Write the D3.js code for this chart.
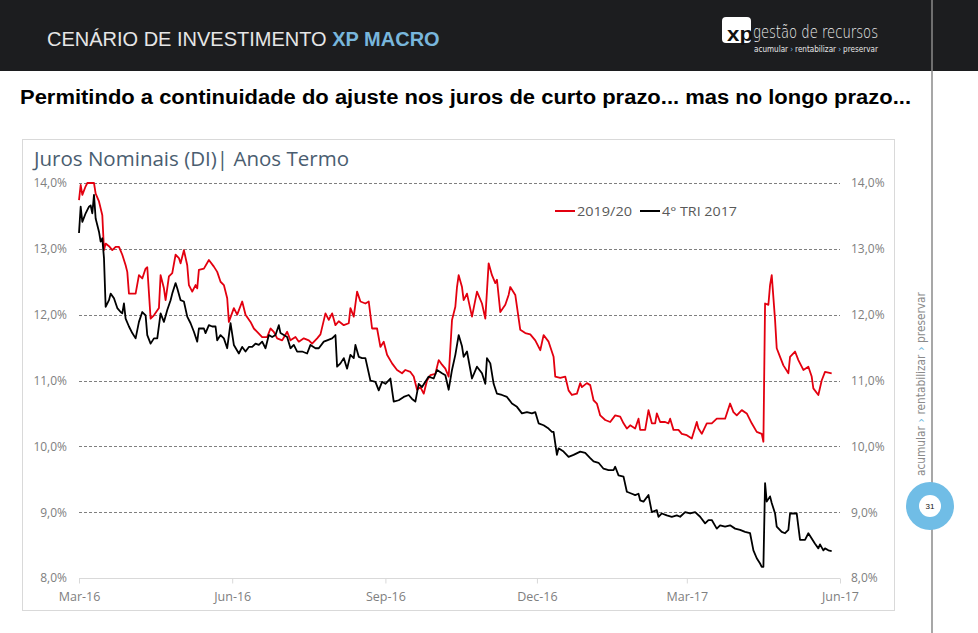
<!DOCTYPE html>
<html><head><meta charset="utf-8">
<script src="https://cdn.jsdelivr.net/npm/d3@7"></script>
<style>html,body{margin:0;padding:0;background:#fff;overflow:hidden}svg{display:block}</style>
</head><body>
<svg id="c" width="978" height="633"></svg>
<script>
// ---------------- DATA ----------------
const seriesNames = ["2019/20", "4° TRI 2017"];
const yTicks = [8, 9, 10, 11, 12, 13, 14];
const xTickDates = ["2016-03-01","2016-06-01","2016-09-01","2016-12-01","2017-03-01","2017-06-01"];
const xTickLabels = ["Mar-16","Jun-16","Sep-16","Dec-16","Mar-17","Jun-17"];

const redDates = ["2016-03-01","2016-03-02","2016-03-03","2016-03-05","2016-03-06","2016-03-10","2016-03-11","2016-03-13","2016-03-15","2016-03-16","2016-03-17","2016-03-19","2016-03-21","2016-03-23","2016-03-25","2016-03-27","2016-03-29","2016-03-30","2016-03-31","2016-04-04","2016-04-06","2016-04-08","2016-04-10","2016-04-11","2016-04-13","2016-04-15","2016-04-18","2016-04-19","2016-04-21","2016-04-22","2016-04-24","2016-04-26","2016-04-28","2016-04-30","2016-05-01","2016-05-03","2016-05-05","2016-05-06","2016-05-08","2016-05-10","2016-05-11","2016-05-12","2016-05-15","2016-05-18","2016-05-21","2016-05-23","2016-05-25","2016-05-27","2016-05-29","2016-05-30","2016-06-02","2016-06-04","2016-06-07","2016-06-09","2016-06-12","2016-06-14","2016-06-16","2016-06-19","2016-06-22","2016-06-24","2016-06-26","2016-06-28","2016-07-01","2016-07-04","2016-07-06","2016-07-09","2016-07-11","2016-07-14","2016-07-17","2016-07-19","2016-07-22","2016-07-24","2016-07-27","2016-07-29","2016-07-31","2016-08-02","2016-08-04","2016-08-07","2016-08-10","2016-08-11","2016-08-13","2016-08-15","2016-08-17","2016-08-20","2016-08-22","2016-08-24","2016-08-27","2016-08-29","2016-08-31","2016-09-02","2016-09-05","2016-09-08","2016-09-11","2016-09-13","2016-09-16","2016-09-18","2016-09-20","2016-09-22","2016-09-24","2016-09-26","2016-09-28","2016-10-01","2016-10-03","2016-10-05","2016-10-07","2016-10-09","2016-10-11","2016-10-13","2016-10-14","2016-10-15","2016-10-17","2016-10-18","2016-10-20","2016-10-23","2016-10-26","2016-10-29","2016-10-31","2016-11-02","2016-11-04","2016-11-06","2016-11-07","2016-11-09","2016-11-12","2016-11-14","2016-11-15","2016-11-18","2016-11-21","2016-11-24","2016-11-27","2016-11-30","2016-12-03","2016-12-05","2016-12-08","2016-12-11","2016-12-12","2016-12-15","2016-12-18","2016-12-20","2016-12-22","2016-12-25","2016-12-27","2016-12-28","2016-12-31","2017-01-02","2017-01-04","2017-01-06","2017-01-08","2017-01-11","2017-01-14","2017-01-17","2017-01-20","2017-01-22","2017-01-24","2017-01-26","2017-01-29","2017-01-31","2017-02-01","2017-02-04","2017-02-06","2017-02-08","2017-02-10","2017-02-11","2017-02-13","2017-02-16","2017-02-18","2017-02-19","2017-02-21","2017-02-24","2017-02-26","2017-03-01","2017-03-04","2017-03-07","2017-03-08","2017-03-10","2017-03-13","2017-03-16","2017-03-19","2017-03-24","2017-03-27","2017-03-29","2017-03-31","2017-04-03","2017-04-06","2017-04-09","2017-04-12","2017-04-15","2017-04-16","2017-04-17","2017-04-19","2017-04-20","2017-04-21","2017-04-23","2017-04-24","2017-04-26","2017-04-28","2017-05-01","2017-05-02","2017-05-05","2017-05-07","2017-05-10","2017-05-13","2017-05-15","2017-05-16","2017-05-19","2017-05-21","2017-05-23","2017-05-27"];
const redValues = [13.74,13.97,13.82,13.95,14.0,14.0,13.84,13.72,13.51,12.98,13.08,13.04,12.98,13.03,13.03,12.91,12.75,12.65,12.32,12.32,12.60,12.55,12.70,12.72,11.94,11.99,12.10,12.60,12.40,12.22,12.58,12.63,12.91,12.86,12.78,12.98,12.75,12.45,12.35,12.45,12.40,12.68,12.70,12.83,12.73,12.65,12.50,12.45,12.25,11.89,12.10,12.00,12.20,12.00,11.89,11.79,11.74,11.66,11.66,11.79,11.74,11.64,11.61,11.74,11.61,11.66,11.59,11.64,11.61,11.56,11.64,11.70,12.02,11.92,12.02,11.84,11.90,11.84,11.87,12.10,11.97,12.35,12.20,12.17,12.20,11.79,11.79,11.51,11.59,11.39,11.26,11.16,11.11,11.16,11.13,11.06,10.86,10.90,10.80,11.00,11.08,11.10,11.31,11.24,11.18,11.06,11.92,12.12,12.42,12.60,12.42,12.22,12.32,11.97,12.35,12.17,11.94,12.78,12.60,12.48,12.53,12.04,12.15,12.30,12.42,12.30,11.77,11.72,11.70,11.61,11.46,11.69,11.59,11.36,11.06,11.04,11.06,10.85,10.78,10.80,10.96,10.90,10.96,10.93,10.70,10.65,10.47,10.40,10.37,10.47,10.45,10.35,10.27,10.32,10.27,10.42,10.25,10.25,10.55,10.35,10.35,10.50,10.37,10.37,10.35,10.42,10.25,10.25,10.19,10.17,10.12,10.37,10.27,10.19,10.35,10.35,10.42,10.42,10.65,10.52,10.47,10.55,10.50,10.35,10.22,10.19,10.07,12.17,12.15,12.45,12.60,11.92,11.49,11.36,11.23,11.11,11.36,11.44,11.31,11.16,11.21,11.06,10.88,10.78,11.00,11.13,11.11];

const blackDates = ["2016-03-01","2016-03-02","2016-03-03","2016-03-05","2016-03-07","2016-03-08","2016-03-09","2016-03-10","2016-03-11","2016-03-13","2016-03-14","2016-03-15","2016-03-16","2016-03-17","2016-03-19","2016-03-20","2016-03-22","2016-03-24","2016-03-26","2016-03-27","2016-03-28","2016-03-29","2016-03-31","2016-04-02","2016-04-04","2016-04-06","2016-04-08","2016-04-10","2016-04-11","2016-04-13","2016-04-15","2016-04-17","2016-04-19","2016-04-21","2016-04-23","2016-04-25","2016-04-26","2016-04-28","2016-04-29","2016-05-01","2016-05-03","2016-05-05","2016-05-07","2016-05-09","2016-05-11","2016-05-12","2016-05-15","2016-05-16","2016-05-18","2016-05-20","2016-05-22","2016-05-23","2016-05-25","2016-05-27","2016-05-29","2016-05-31","2016-06-02","2016-06-05","2016-06-07","2016-06-09","2016-06-11","2016-06-13","2016-06-15","2016-06-17","2016-06-19","2016-06-21","2016-06-23","2016-06-25","2016-06-27","2016-06-29","2016-06-30","2016-07-02","2016-07-04","2016-07-06","2016-07-08","2016-07-10","2016-07-13","2016-07-16","2016-07-18","2016-07-21","2016-07-23","2016-07-26","2016-07-28","2016-07-31","2016-08-02","2016-08-03","2016-08-05","2016-08-07","2016-08-09","2016-08-11","2016-08-13","2016-08-14","2016-08-16","2016-08-18","2016-08-20","2016-08-23","2016-08-26","2016-08-28","2016-08-30","2016-09-01","2016-09-04","2016-09-06","2016-09-09","2016-09-12","2016-09-15","2016-09-17","2016-09-19","2016-09-21","2016-09-23","2016-09-25","2016-09-27","2016-09-30","2016-10-02","2016-10-05","2016-10-07","2016-10-09","2016-10-11","2016-10-13","2016-10-15","2016-10-17","2016-10-18","2016-10-20","2016-10-23","2016-10-26","2016-10-29","2016-10-31","2016-11-01","2016-11-03","2016-11-05","2016-11-07","2016-11-10","2016-11-13","2016-11-16","2016-11-19","2016-11-22","2016-11-25","2016-11-28","2016-11-30","2016-12-02","2016-12-05","2016-12-08","2016-12-10","2016-12-11","2016-12-13","2016-12-14","2016-12-17","2016-12-20","2016-12-23","2016-12-27","2016-12-30","2017-01-02","2017-01-04","2017-01-07","2017-01-10","2017-01-13","2017-01-16","2017-01-17","2017-01-19","2017-01-22","2017-01-24","2017-01-27","2017-01-29","2017-01-31","2017-02-01","2017-02-03","2017-02-06","2017-02-08","2017-02-11","2017-02-12","2017-02-14","2017-02-17","2017-02-20","2017-02-23","2017-02-25","2017-02-28","2017-03-03","2017-03-06","2017-03-09","2017-03-12","2017-03-14","2017-03-16","2017-03-19","2017-03-21","2017-03-24","2017-03-27","2017-03-30","2017-04-02","2017-04-05","2017-04-08","2017-04-10","2017-04-12","2017-04-14","2017-04-15","2017-04-16","2017-04-17","2017-04-18","2017-04-20","2017-04-21","2017-04-23","2017-04-24","2017-04-27","2017-04-29","2017-05-01","2017-05-02","2017-05-04","2017-05-06","2017-05-08","2017-05-11","2017-05-13","2017-05-15","2017-05-17","2017-05-19","2017-05-20","2017-05-22","2017-05-23","2017-05-25","2017-05-27"];
const blackValues = [13.24,13.64,13.41,13.54,13.64,13.66,13.54,13.82,13.46,13.26,13.11,13.16,12.86,12.12,12.22,12.32,12.25,12.10,12.04,12.02,12.17,11.94,11.82,11.72,11.64,11.89,12.04,11.99,11.69,11.56,11.64,11.64,12.02,11.89,12.07,12.22,12.32,12.48,12.40,12.22,12.20,11.97,11.87,11.74,11.59,11.79,11.79,11.72,11.84,11.82,11.82,11.61,11.69,11.64,11.49,11.87,11.54,11.41,11.51,11.44,11.51,11.51,11.56,11.54,11.59,11.49,11.69,11.66,11.69,11.84,11.72,11.69,11.66,11.49,11.54,11.44,11.44,11.41,11.54,11.49,11.49,11.59,11.61,11.64,11.69,11.21,11.26,11.34,11.18,11.39,11.34,11.54,11.36,11.34,11.34,11.00,10.98,10.85,10.98,10.95,11.03,10.68,10.70,10.75,10.78,10.72,10.68,10.95,10.90,10.98,11.06,11.03,11.16,11.11,11.08,10.86,11.16,11.39,11.69,11.52,11.36,11.44,11.03,11.21,11.11,10.95,11.34,11.26,10.95,10.80,10.78,10.75,10.65,10.60,10.50,10.52,10.50,10.52,10.35,10.32,10.27,10.22,10.22,9.87,9.97,9.92,9.84,9.87,9.92,9.90,9.82,9.77,9.75,9.66,9.64,9.64,9.69,9.56,9.54,9.31,9.28,9.26,9.28,9.18,9.16,9.26,9.00,9.03,8.93,8.98,8.95,8.93,8.95,8.93,9.00,8.98,9.00,8.93,8.83,8.88,8.88,8.75,8.80,8.78,8.80,8.75,8.73,8.70,8.68,8.42,8.30,8.22,8.17,8.17,9.44,9.16,9.24,9.14,8.98,8.78,8.70,8.68,8.73,8.98,8.98,8.98,8.58,8.58,8.68,8.60,8.52,8.45,8.51,8.42,8.45,8.42,8.41];

const taglineParts = ["acumular", "›", "rentabilizar", "›", "preservar"];

// ---------------- DRAW ----------------
const svg = d3.select("#c");
const parse = d3.timeParse("%Y-%m-%d");

// header band
svg.append("rect").attr("x",0).attr("y",0).attr("width",978).attr("height",71).attr("fill","#1c1d1f");
const ht = svg.append("text").attr("x",47).attr("y",46)
  .style("font-family","'Liberation Sans', Arial, sans-serif").style("font-size","20px");
ht.append("tspan").attr("fill","#e6e6e6").text("CENÁRIO DE INVESTIMENTO ");
ht.append("tspan").attr("fill","#78b6dc").attr("font-weight","bold").text("XP MACRO");

// logo
svg.append("rect").attr("x",722).attr("y",17).attr("width",29).attr("height",26).attr("rx",4).attr("fill","#ffffff");
svg.append("text").attr("x",727).attr("y",41).attr("fill","#111").style("font-family","'Liberation Sans',Arial,sans-serif")
  .style("font-size","21px").style("font-weight","bold").attr("textLength",26).attr("lengthAdjust","spacingAndGlyphs").text("xp");
svg.append("text").attr("x",753).attr("y",38).attr("fill","#f0f0f0").style("font-family","'DejaVu Sans',sans-serif")
  .style("font-size","17px").style("font-weight","200").attr("textLength",125).attr("lengthAdjust","spacingAndGlyphs").text("gestão de recursos");

// tagline pieces laid out one after another (horizontal in header, vertical at right)
function tagline(g, fontSize, color, gap) {
  let pos = 0;
  taglineParts.forEach((p, i) => {
    const t = g.append("text").attr("x", pos).attr("y", 0)
      .attr("fill", p === "›" ? "#6fb8e0" : color)
      .style("font-family","'DejaVu Sans',sans-serif").style("font-size", fontSize + "px").text(p);
    pos += t.node().getComputedTextLength() + gap;
  });
  return pos - gap;
}
const tg = svg.append("g");
const tw = tagline(tg, 9, "#e8e8e8", 2.5);
tg.attr("transform", `translate(754,52) scale(${124 / tw},1)`);

// right vertical rule
svg.append("line").attr("x1",932).attr("x2",932).attr("y1",0).attr("y2",633).attr("stroke","#8a8a8a").attr("stroke-width",1.5);
const vg = svg.append("g");
const vw = tagline(vg, 11.5, "#8a8a8a", 4);
vg.attr("transform", `translate(925,476) rotate(-90) scale(${184 / vw},1)`);
svg.append("circle").attr("cx",930).attr("cy",506).attr("r",24).attr("fill","#70bde6");
svg.append("circle").attr("cx",930).attr("cy",506).attr("r",11).attr("fill","#ffffff");
svg.append("text").attr("x",930).attr("y",509).attr("text-anchor","middle").attr("fill","#111")
  .style("font-family","'Liberation Sans',Arial,sans-serif").style("font-size","8px").text("31");

// subtitle
svg.append("text").attr("x",20).attr("y",104).attr("fill","#000")
  .style("font-family","'Liberation Sans',Arial,sans-serif").style("font-size","19.5px").style("font-weight","bold")
  .attr("textLength",891).attr("lengthAdjust","spacingAndGlyphs")
  .text("Permitindo a continuidade do ajuste nos juros de curto prazo... mas no longo prazo...");

// chart frame
svg.append("rect").attr("x",22.5).attr("y",139.5).attr("width",872).attr("height",471).attr("fill","#fff").attr("stroke","#d9d9d9").attr("stroke-width",1);
svg.append("text").attr("x",34).attr("y",166).attr("fill","#4a5d70")
  .style("font-family","'Open Sans','Noto Sans',sans-serif").style("font-size","19.5px")
  .attr("textLength",315).attr("lengthAdjust","spacingAndGlyphs").text("Juros Nominais (DI)| Anos Termo");

// scales
const x = d3.scaleTime().domain([parse(xTickDates[0]), parse(xTickDates[xTickDates.length-1])]).range([79, 840]);
const y = d3.scaleLinear().domain([8, 14]).range([578, 183]);
const fmt = v => d3.format(".1f")(v).replace(".", ",") + "%";
const tickFont = "'Open Sans','Noto Sans',sans-serif";

// gridlines
const grid = svg.append("g");
grid.selectAll("line").data(yTicks.filter(v => v > 8)).join("line")
  .attr("x1",79).attr("x2",840).attr("y1",d=>Math.round(y(d))+0.5).attr("y2",d=>Math.round(y(d))+0.5)
  .attr("stroke","#7f7f7f").attr("stroke-width",1).attr("stroke-dasharray","3,2");

// left axis
const yl = svg.append("g").attr("transform","translate(70,0)")
  .call(d3.axisLeft(y).tickValues(yTicks).tickFormat(fmt).tickSize(0).tickPadding(3));
yl.select(".domain").remove();
yl.selectAll("text").attr("fill","#808080").style("font-family",tickFont).style("font-size","12px");
// right axis
const yr = svg.append("g").attr("transform","translate(848,0)")
  .call(d3.axisRight(y).tickValues(yTicks).tickFormat(fmt).tickSize(0).tickPadding(3));
yr.select(".domain").remove();
yr.selectAll("text").attr("fill","#808080").style("font-family",tickFont).style("font-size","12px");

// bottom axis
const xa = svg.append("g").attr("transform","translate(0,578.5)")
  .call(d3.axisBottom(x).tickValues(xTickDates.map(parse)).tickFormat((d,i)=>xTickLabels[i]).tickSize(5).tickPadding(9));
xa.select(".domain").attr("stroke","#d9d9d9").attr("d","M79,0H840");
xa.selectAll(".tick line").attr("stroke","#d9d9d9");
xa.selectAll("text").attr("fill","#808080").style("font-family",tickFont).style("font-size","12.5px");

// lines
const line = d3.line().x(d=>x(d.date)).y(d=>y(Math.min(14, d.v)));
const red = redDates.map((d,i)=>({date:parse(d), v:redValues[i]}));
const black = blackDates.map((d,i)=>({date:parse(d), v:blackValues[i]}));
svg.append("path").datum(red).attr("d",line).attr("fill","none").attr("stroke","#e3000f").attr("stroke-width",1.8).attr("stroke-linejoin","round");
svg.append("path").datum(black).attr("d",line).attr("fill","none").attr("stroke","#000").attr("stroke-width",1.8).attr("stroke-linejoin","round");

// legend
const lg = svg.append("g").style("font-family",tickFont).style("font-size","13px");
const legendItems = [{name:seriesNames[0], color:"#e3000f", x:555, w:55}, {name:seriesNames[1], color:"#000", x:640, w:75}];
legendItems.forEach(it => {
  lg.append("line").attr("x1",it.x).attr("x2",it.x+20).attr("y1",211).attr("y2",211).attr("stroke",it.color).attr("stroke-width",2);
  lg.append("text").attr("x",it.x+22).attr("y",216).attr("fill","#595959").attr("textLength",it.w).attr("lengthAdjust","spacingAndGlyphs").text(it.name);
});
</script>
</body></html>
